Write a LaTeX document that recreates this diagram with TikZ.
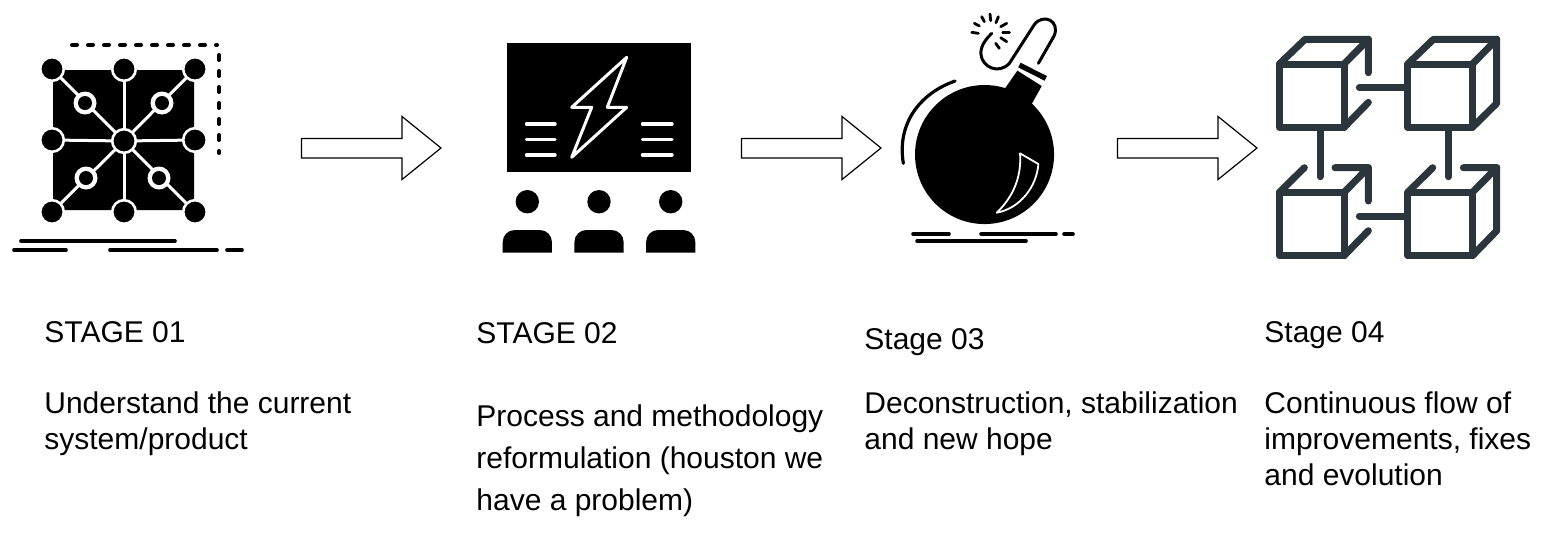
\documentclass[tikz,border=0pt]{standalone}
\usepackage{fontspec}
\setmainfont{Liberation Sans}
\definecolor{cubeink}{HTML}{2A363B}
\tikzset{
  title/.style={anchor=base west,inner sep=0pt,font=\fontsize{15}{18}\selectfont},
  bodytight/.style={anchor=base west,inner sep=0pt,align=left,font=\fontsize{15}{17.9}\selectfont},
  bodywide/.style={anchor=base west,inner sep=0pt,align=left,font=\fontsize{15}{21}\selectfont},
  blockarrow/.style={draw=black,fill=white,line width=0.6pt,miter limit=10},
  ink/.style={line width=1.8pt,draw=black,line cap=round},
  whiteink/.style={line width=1.7pt,draw=white,line cap=round},
  cube/.style={draw=cubeink,line width=3.5pt,line cap=round,line join=round},
  hub/.style={fill=black,draw=white,line width=1.3pt},
  dotted edge/.style={draw=black,line width=2pt,line cap=round,dash pattern=on 2.5pt off 5.5pt},
}
\begin{document}
\begin{tikzpicture}[x=0.5pt,y=-0.5pt]
\useasboundingbox (0,0) rectangle (1562,542);
\fill[white] (0,0) rectangle (1562,542);

% ---------- Icon 1
\fill[black,rounded corners=1pt] (53,70) rectangle (194,210);
\foreach \a/\b in {52/212,124/212,195/212,52/140,195/140,124/69,52/69,195/69}{
  \draw[white,line width=1.5pt] (124,141) -- (\a,\b);}
\foreach \x/\y in {85/103,162/103,86/178,159/178}{
  \fill[white] (\x,\y) circle (11.5);
  \fill[black] (\x,\y) circle (7);}
\foreach \x/\y in {52/69,124/69,195/69,52/140,124/141,195/140,52/212,124/212,195/212}{
  \draw[hub] (\x,\y) circle (11.8);}
\draw[dotted edge] (72,45) -- (217,45);
\draw[dotted edge] (219,55) -- (219,153);
\draw[ink] (21,241) -- (175,241);
\draw[ink] (14,250) -- (66,250) (110,250) -- (217,250) (227,250) -- (242,250);

% ---------- Arrow 1
\draw[blockarrow] (301.5,138.5) -- (402,138.5) -- (402,116.5) -- (441,148) -- (402,179.5) -- (402,158) -- (301.5,158) -- cycle;

% ---------- Icon 2
\fill[black] (507,43) rectangle (691,172);
\draw[white,line width=1.5pt,line join=round] (626.7,57.3) -- (571.7,107.3) -- (591.7,107.3) -- (571.7,157.3) -- (626.7,107.3) -- (607.3,107.3) -- cycle;
\foreach \y in {124,139.3,155}{
  \draw[whiteink] (526.5,\y) -- (555,\y);
  \draw[whiteink] (642.5,\y) -- (672,\y);}
\foreach \x in {527.3,599,670.7}{
  \fill[black] (\x,201.7) circle (11.7);
  \fill[black] (\x-24.6,252.7) [rounded corners=6pt] -- (\x-24.6,230) -- (\x+24.6,230) [sharp corners] -- (\x+24.6,252.7) -- cycle;}

% ---------- Arrow 2
\draw[blockarrow] (741.5,138.5) -- (842,138.5) -- (842,116.5) -- (881,148) -- (842,179.5) -- (842,158) -- (741.5,158) -- cycle;

% ---------- Icon 3
\begin{scope}[shift={(880,0)},x=0.1667pt,y=-0.1667pt]
  \fill[black] (375,265) -- (412,212) -- (485,258) -- (455,312) -- (420,330) -- (340,300) -- cycle;
  \draw[black,line width=2.6pt] (418,195) -- (497,235);
  \draw[black,line width=1.5pt,line cap=round] (335,100) .. controls (315,120) and (300,140) .. (303,165)
     .. controls (307,200) and (355,225) .. (388,190) -- (462,75)
     .. controls (488,38) and (542,62) .. (522,108) -- (475,190);
  \foreach \a/\b/\c/\d in {275/97/295/100,283/70/298/78,305/50/313/65,330/42/332/62,355/50/348/68,380/70/362/80,388/97/368/97,380/125/362/113,358/145/347/130}{
    \draw[black,line width=1.4pt,line cap=round] (\a,\b) -- (\c,\d);}
  \draw[black,line width=1.6pt,line cap=round] (225,243) .. controls (120,280) and (50,370) .. (70,490);
  \fill[black] (313.5,463.5) circle (208.5);
  \draw[white,line width=0.9pt,line join=round] (420,460) -- (475,492)
     .. controls (470,560) and (420,625) .. (350,638)
     .. controls (400,590) and (425,530) .. cycle;
\end{scope}
\draw[ink] (913,234) -- (949,234) (981,234) -- (1056,234) (1064,234) -- (1073,234);
\draw[ink] (917,241) -- (1026,241);

% ---------- Arrow 3
\draw[blockarrow] (1117.5,138.5) -- (1218,138.5) -- (1218,116.5) -- (1257,148) -- (1218,179.5) -- (1218,158) -- (1117.5,158) -- cycle;

% ---------- Icon 4
\begin{scope}[shift={(1260,20)},x=0.1667pt,y=-0.1667pt]
  \draw[cube] (58,132) rectangle (252,322);
  \draw[cube] (58,132) -- (135,58) -- (325,58) -- (252,132);
  \draw[cube] (325,58) -- (325,158) (252,322) -- (325,247);
  \draw[cube] (298,203) -- (440,203);
  \draw[cube] (180,330) -- (180,470);
  \draw[cube] (443,132) rectangle (637,322);
  \draw[cube] (443,132) -- (520,58) -- (710,58) -- (637,132);
  \draw[cube] (710,58) -- (710,250) -- (637,322);
  \draw[cube] (565,330) -- (565,470);
  \draw[cube] (58,517) rectangle (252,707);
  \draw[cube] (58,517) -- (133,443) (225,443) -- (325,443) -- (252,517);
  \draw[cube] (325,443) -- (325,543) (252,707) -- (325,632);
  \draw[cube] (298,588) -- (440,588);
  \draw[cube] (443,517) rectangle (637,707);
  \draw[cube] (443,517) -- (518,443) (610,443) -- (710,443) -- (637,517);
  \draw[cube] (710,443) -- (710,632) -- (637,707);
\end{scope}

% ---------- Text
\node[title] (t1) at (44,342) {STAGE 01};
\node[bodytight] (b1) at (44,449) {Understand the current\\system/product};
\node[title] (t2) at (476,343) {STAGE 02};
\node[bodywide] (b2) at (476,510) {Process and methodology\\reformulation (houston we\\have a problem)};
\node[title] (t3) at (864,349) {Stage 03};
\node[bodytight] (b3) at (864,449) {Deconstruction, stabilization\\and new hope};
\node[title] (t4) at (1264,342) {Stage 04};
\node[bodytight] (b4) at (1264,485) {Continuous flow of\\improvements, fixes\\and evolution};
\end{tikzpicture}
\end{document}
